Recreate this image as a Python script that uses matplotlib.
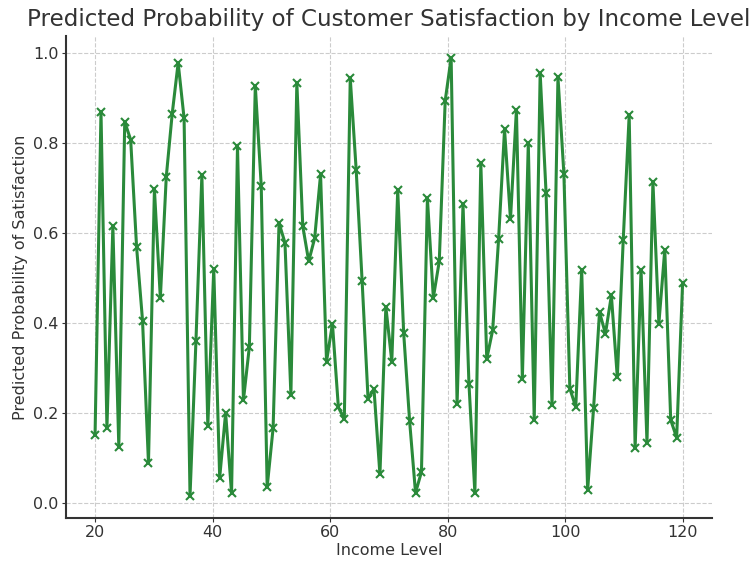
import matplotlib
matplotlib.use("Agg")
import matplotlib.pyplot as plt
import numpy as np

# income levels: 100 evenly spaced points from 20 to 120
income = np.linspace(20, 120, 100)

prob = [
    0.151, 0.869, 0.166, 0.615, 0.125, 0.847, 0.807, 0.568, 0.405, 0.088,
    0.697, 0.455, 0.725, 0.865, 0.978, 0.855, 0.015, 0.360, 0.729, 0.171,
    0.520, 0.056, 0.200, 0.021, 0.793, 0.228, 0.347, 0.927, 0.705, 0.035,
    0.166, 0.622, 0.578, 0.240, 0.934, 0.615, 0.537, 0.588, 0.730, 0.314,
    0.398, 0.212, 0.187, 0.944, 0.740, 0.493, 0.231, 0.253, 0.063, 0.436,
    0.314, 0.695, 0.378, 0.182, 0.022, 0.069, 0.677, 0.456, 0.537, 0.894,
    0.989, 0.219, 0.664, 0.265, 0.022, 0.756, 0.320, 0.384, 0.587, 0.830,
    0.630, 0.874, 0.275, 0.799, 0.184, 0.955, 0.688, 0.217, 0.946, 0.731,
    0.254, 0.213, 0.518, 0.028, 0.210, 0.424, 0.376, 0.461, 0.279, 0.585,
    0.862, 0.121, 0.518, 0.134, 0.714, 0.398, 0.563, 0.184, 0.145, 0.488,
]

fig = plt.figure(figsize=(7.55, 5.63), dpi=100)
ax = fig.add_axes([0.087, 0.080, 0.856, 0.856])

ax.plot(income, prob, color="#2a8a3a", marker="x", markersize=6,
        markeredgewidth=1.5, linewidth=2.2)

ax.set_xlim(15, 125)
ax.set_title("Predicted Probability of Customer Satisfaction by Income Level",
             fontsize=16.6, color="#333333", pad=7)
ax.set_xlabel("Income Level", fontsize=11.5, color="#333333", labelpad=2)
ax.set_ylabel("Predicted Probability of Satisfaction", fontsize=11.5,
              color="#333333", labelpad=4)

ax.grid(True, linestyle="--", color="#cccccc", linewidth=0.8)
ax.set_axisbelow(True)
for s in ["top", "right"]:
    ax.spines[s].set_visible(False)
for s in ["left", "bottom"]:
    ax.spines[s].set_linewidth(1.5)
    ax.spines[s].set_color("#333333")
ax.tick_params(labelsize=11.5, colors="#333333", direction="out", length=3, pad=2)

fig.savefig("out.png", dpi=100)
